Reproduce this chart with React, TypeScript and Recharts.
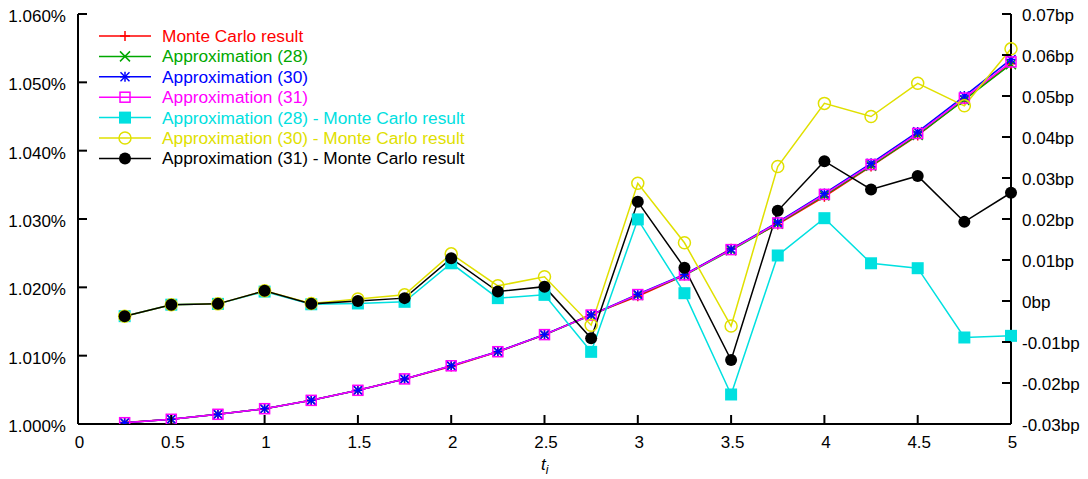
import React from 'react';
import { LineChart, Line, XAxis, YAxis } from 'recharts';

// t values (years)
const T = [0.25, 0.5, 0.75, 1, 1.25, 1.5, 1.75, 2, 2.25, 2.5, 2.75, 3, 3.25, 3.5, 3.75, 4, 4.25, 4.5, 4.75, 5];

// rates in %
const MC = [1.00023, 1.0007, 1.00143, 1.00222, 1.00347, 1.00493, 1.00659, 1.00842, 1.01056, 1.01304, 1.01603, 1.0187, 1.02174, 1.02566, 1.0292, 1.03326, 1.0377, 1.04222, 1.04751, 1.05273];
const A28 = [1.00019, 1.00069, 1.00142, 1.00224, 1.00346, 1.00493, 1.00659, 1.00851, 1.01057, 1.01306, 1.01591, 1.0189, 1.02176, 1.02543, 1.02931, 1.03346, 1.03779, 1.0423, 1.04742, 1.05265];
const A30 = [1.00019, 1.00069, 1.00142, 1.00224, 1.00346, 1.00493, 1.0066, 1.00853, 1.0106, 1.0131, 1.01597, 1.01899, 1.02188, 1.0256, 1.02953, 1.03374, 1.03815, 1.04275, 1.04799, 1.05335];
const A31 = [1.00019, 1.00069, 1.00142, 1.00224, 1.00346, 1.00493, 1.0066, 1.00852, 1.01058, 1.01308, 1.01594, 1.01894, 1.02182, 1.02552, 1.02942, 1.0336, 1.03797, 1.04252, 1.0477, 1.05299];

// differences in bp
const D28 = [-0.0037, -0.0009, -0.0007, 0.0023, -0.0008, -0.0006, -0.0002, 0.0092, 0.0007, 0.0015, -0.0124, 0.0199, 0.0019, -0.0228, 0.0111, 0.0202, 0.0092, 0.008, -0.0089, -0.0085];
const D30 = [-0.0037, -0.0009, -0.0007, 0.0025, -0.0006, 0.0005, 0.0015, 0.0115, 0.0037, 0.0059, -0.0059, 0.0287, 0.0142, -0.0061, 0.0328, 0.0482, 0.045, 0.0531, 0.0476, 0.0615];
const D31 = [-0.0037, -0.0009, -0.0007, 0.0025, -0.0007, 0, 0.0007, 0.0104, 0.0023, 0.0035, -0.0091, 0.0242, 0.0081, -0.0144, 0.022, 0.0341, 0.0272, 0.0305, 0.0193, 0.0264];

const X_TICKS = [0, 0.5, 1, 1.5, 2, 2.5, 3, 3.5, 4, 4.5, 5];
const LEFT_TICKS = [1.0, 1.01, 1.02, 1.03, 1.04, 1.05, 1.06];
const RIGHT_TICKS = [-0.03, -0.02, -0.01, 0, 0.01, 0.02, 0.03, 0.04, 0.05, 0.06, 0.07];

const data = T.map((t, i) => ({
  t,
  mc: MC[i],
  a28: A28[i],
  a30: A30[i],
  a31: A31[i],
  d28: D28[i],
  d30: D30[i],
  d31: D31[i],
}));

const FONT = '"Liberation Sans", Arial, Helvetica, sans-serif';
const FS = 17;

type MarkerKind = 'plus' | 'cross' | 'star' | 'osq' | 'fsq' | 'ocirc' | 'fcirc';

function Marker({ kind, cx, cy, color }: { kind: MarkerKind; cx: number; cy: number; color: string }) {
  const sw = 1.5;
  switch (kind) {
    case 'plus':
      return (
        <g stroke={color} strokeWidth={sw}>
          <line x1={cx - 5} x2={cx + 5} y1={cy} y2={cy} />
          <line x1={cx} x2={cx} y1={cy - 5} y2={cy + 5} />
        </g>
      );
    case 'cross':
      return (
        <g stroke={color} strokeWidth={sw}>
          <line x1={cx - 5} x2={cx + 5} y1={cy - 5} y2={cy + 5} />
          <line x1={cx - 5} x2={cx + 5} y1={cy + 5} y2={cy - 5} />
        </g>
      );
    case 'star':
      return (
        <g stroke={color} strokeWidth={sw}>
          <line x1={cx - 5} x2={cx + 5} y1={cy} y2={cy} />
          <line x1={cx} x2={cx} y1={cy - 5} y2={cy + 5} />
          <line x1={cx - 4.5} x2={cx + 4.5} y1={cy - 4.5} y2={cy + 4.5} />
          <line x1={cx - 4.5} x2={cx + 4.5} y1={cy + 4.5} y2={cy - 4.5} />
        </g>
      );
    case 'osq':
      return <rect x={cx - 5} y={cy - 5} width={10} height={10} fill="none" stroke={color} strokeWidth={sw} />;
    case 'fsq':
      return <rect x={cx - 6} y={cy - 6} width={12} height={12} fill={color} stroke="none" />;
    case 'ocirc':
      return <circle cx={cx} cy={cy} r={6} fill="none" stroke={color} strokeWidth={sw} />;
    default:
      return <circle cx={cx} cy={cy} r={6} fill={color} stroke="none" />;
  }
}

const SERIES: { key: string; name: string; color: string; marker: MarkerKind; axis: string }[] = [
  { key: 'mc', name: 'Monte Carlo result', color: '#ff0000', marker: 'plus', axis: 'left' },
  { key: 'a28', name: 'Approximation (28)', color: '#00a800', marker: 'cross', axis: 'left' },
  { key: 'a30', name: 'Approximation (30)', color: '#0000ff', marker: 'star', axis: 'left' },
  { key: 'a31', name: 'Approximation (31)', color: '#ff00ff', marker: 'osq', axis: 'left' },
  { key: 'd28', name: 'Approximation (28) - Monte Carlo result', color: '#00e0e0', marker: 'fsq', axis: 'right' },
  { key: 'd30', name: 'Approximation (30) - Monte Carlo result', color: '#e0e000', marker: 'ocirc', axis: 'right' },
  { key: 'd31', name: 'Approximation (31) - Monte Carlo result', color: '#000000', marker: 'fcirc', axis: 'right' },
];

function BottomTick({ x, y, payload }: any) {
  return (
    <g>
      <line x1={x} x2={x} y1={y} y2={y - 9} stroke="#000" strokeWidth={2} />
      <text x={x + 1.5} y={y + 24} textAnchor="middle" fontSize={FS} fontFamily={FONT} fill="#000">
        {String(payload.value)}
      </text>
    </g>
  );
}

function TopTick({ x, y }: any) {
  return <line x1={x} x2={x} y1={y} y2={y + 9} stroke="#000" strokeWidth={2} />;
}

function LeftTick({ x, y, payload }: any) {
  return (
    <g>
      <line x1={x} x2={x + 9} y1={y} y2={y} stroke="#000" strokeWidth={2} />
      <text x={x - 12} y={y + 8} textAnchor="end" fontSize={FS} fontFamily={FONT} fill="#000">
        {`${Number(payload.value).toFixed(3)}%`}
      </text>
    </g>
  );
}

function RightTick({ x, y, payload }: any) {
  const v = Number(payload.value);
  const label = Math.abs(v) < 1e-9 ? '0bp' : `${v.toFixed(2)}bp`;
  return (
    <g>
      <line x1={x} x2={x - 9} y1={y} y2={y} stroke="#000" strokeWidth={2} />
      <text x={x + 11} y={y + 7} textAnchor="start" fontSize={FS} fontFamily={FONT} fill="#000">
        {label}
      </text>
    </g>
  );
}

function KeyBox() {
  return (
    <svg width={1088} height={479} style={{ position: 'absolute', left: 0, top: 0, pointerEvents: 'none' }}>
      {SERIES.map((s, i) => {
        const y = 36 + i * 20.4;
        return (
          <g key={s.key}>
            <line x1={99} x2={151} y1={y} y2={y} stroke={s.color} strokeWidth={1.5} />
            <Marker kind={s.marker} cx={125} cy={y} color={s.color} />
            <text x={162} y={y + 6} fontSize={17.3} fontFamily={FONT} fill={s.color}>
              {s.name}
            </text>
          </g>
        );
      })}
      <text x={541} y={470} fontSize={FS} fontFamily={FONT} fontStyle="italic" fill="#000">
        t
        <tspan fontSize={12} dy={4}>i</tspan>
      </text>
    </svg>
  );
}

export default function App() {
  const axisLine = { stroke: '#000', strokeWidth: 2 };
  return (
    <div style={{ position: 'absolute', left: 0, top: 0, width: 1088, height: 479, background: '#fff' }}>
      <LineChart width={1088} height={479} data={data} margin={{ top: 14, right: 0, left: 0, bottom: 0 }}>
        <XAxis
          xAxisId="b"
          dataKey="t"
          type="number"
          domain={[0, 5]}
          ticks={X_TICKS}
          interval={0}
          height={55}
          axisLine={axisLine}
          tickLine={false}
          tickSize={0}
          tickMargin={0}
          tick={<BottomTick />}
        />
        <XAxis
          xAxisId="top"
          orientation="top"
          dataKey="t"
          type="number"
          domain={[0, 5]}
          ticks={X_TICKS}
          interval={0}
          height={0}
          axisLine={axisLine}
          tickLine={false}
          tickSize={0}
          tickMargin={0}
          tick={<TopTick />}
        />
        <YAxis
          yAxisId="left"
          type="number"
          domain={[1.0, 1.06]}
          ticks={LEFT_TICKS}
          interval={0}
          width={78}
          axisLine={axisLine}
          tickLine={false}
          tickSize={0}
          tickMargin={0}
          tick={<LeftTick />}
          allowDataOverflow
        />
        <YAxis
          yAxisId="right"
          orientation="right"
          type="number"
          domain={[-0.03, 0.07]}
          ticks={RIGHT_TICKS}
          interval={0}
          width={77}
          axisLine={axisLine}
          tickLine={false}
          tickSize={0}
          tickMargin={0}
          tick={<RightTick />}
          allowDataOverflow
        />
        {SERIES.map((s) => (
          <Line
            key={s.key}
            xAxisId="b"
            yAxisId={s.axis}
            dataKey={s.key}
            type="linear"
            stroke={s.color}
            strokeWidth={1.5}
            isAnimationActive={false}
            dot={(p: any) => <Marker key={`${s.key}-${p.index}`} kind={s.marker} cx={p.cx} cy={p.cy} color={s.color} />}
            activeDot={false}
          />
        ))}
      </LineChart>
      <KeyBox />
    </div>
  );
}
